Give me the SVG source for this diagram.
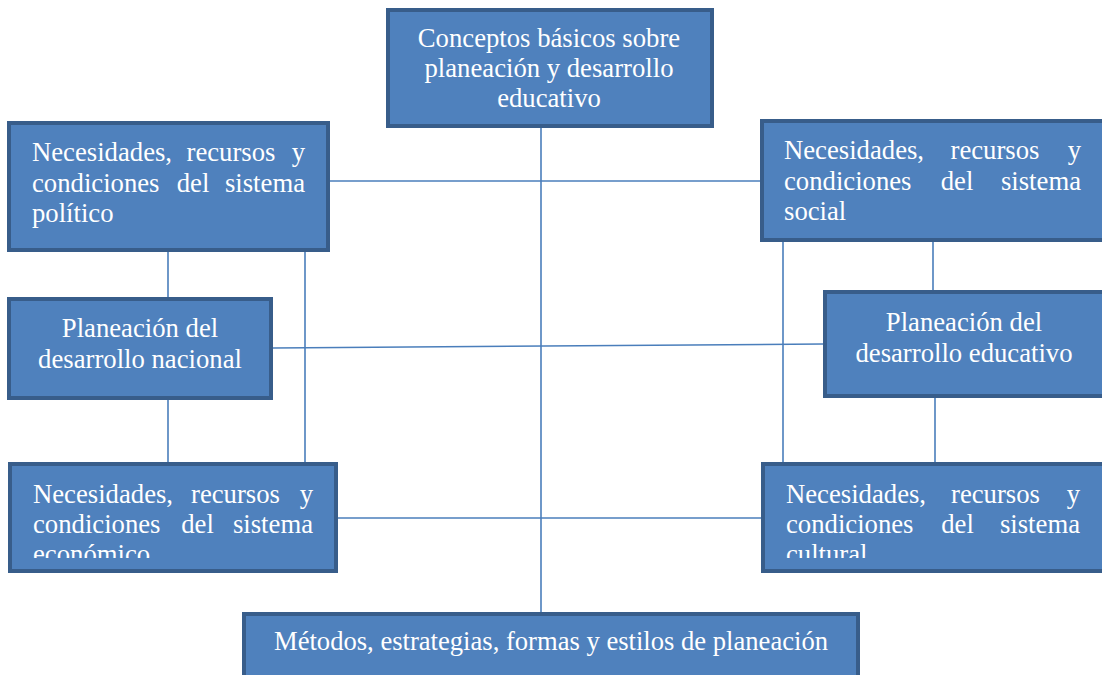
<svg xmlns="http://www.w3.org/2000/svg" width="1102" height="675" viewBox="0 0 1102 675">
<defs>
<style>
.box{fill:#4F81BD;stroke:#385D8A;stroke-width:4}
.t{font-family:"Liberation Serif","Times New Roman",serif;font-size:26.7px;fill:#FFFFFF}
.c{text-anchor:middle}
.e{text-anchor:end}
.ln{stroke:#4A7EBB;stroke-width:1.6;fill:none}
</style>
<clipPath id="clipL"><rect x="0" y="460" width="350" height="98"/></clipPath>
<clipPath id="clipR"><rect x="750" y="460" width="352" height="98"/></clipPath>
</defs>
<rect width="1102" height="675" fill="#FFFFFF"/>
<g id="connectors">
<line class="ln" x1="541" y1="127" x2="541" y2="612"/>
<line class="ln" x1="330" y1="181" x2="760" y2="181"/>
<line class="ln" x1="273" y1="348" x2="823" y2="344"/>
<line class="ln" x1="338" y1="518" x2="761" y2="518"/>
<line class="ln" x1="168" y1="252" x2="168" y2="297"/>
<line class="ln" x1="168" y1="400" x2="168" y2="462"/>
<line class="ln" x1="305" y1="252" x2="305" y2="462"/>
<line class="ln" x1="783" y1="242" x2="783" y2="462"/>
<line class="ln" x1="933" y1="242" x2="933" y2="290"/>
<line class="ln" x1="935" y1="398" x2="935" y2="462"/>
</g>
<g id="n-conceptos">
<rect class="box" x="388" y="10" width="324" height="116"/>
<text class="t c" x="549" y="47">Conceptos básicos sobre</text>
<text class="t c" x="549" y="77">planeación y desarrollo</text>
<text class="t c" x="549" y="107">educativo</text>
</g>
<g id="n-politico">
<rect class="box" x="9" y="123" width="319" height="127"/>
<text class="t" x="32" y="161">Necesidades,</text>
<text class="t c" x="231" y="161">recursos</text>
<text class="t e" x="305" y="161">y</text>
<text class="t" x="32" y="192">condiciones</text>
<text class="t c" x="193" y="192">del</text>
<text class="t e" x="305" y="192">sistema</text>
<text class="t" x="32" y="222">político</text>
</g>
<g id="n-social">
<rect class="box" x="762" y="121" width="345" height="119"/>
<text class="t" x="784" y="159">Necesidades,</text>
<text class="t c" x="995" y="159">recursos</text>
<text class="t e" x="1081" y="159">y</text>
<text class="t" x="784" y="190">condiciones</text>
<text class="t c" x="957" y="190">del</text>
<text class="t e" x="1081" y="190">sistema</text>
<text class="t" x="784" y="220">social</text>
</g>
<g id="n-nacional">
<rect class="box" x="9" y="299" width="262" height="99"/>
<text class="t c" x="140" y="337">Planeación del</text>
<text class="t c" x="140" y="368">desarrollo nacional</text>
</g>
<g id="n-educativo">
<rect class="box" x="825" y="292" width="282" height="104"/>
<text class="t c" x="964" y="331">Planeación del</text>
<text class="t c" x="964" y="362">desarrollo educativo</text>
</g>
<g id="n-economico">
<rect class="box" x="10" y="464" width="326" height="107"/>
<g clip-path="url(#clipL)">
<text class="t" x="33" y="503">Necesidades,</text>
<text class="t c" x="235.5" y="503">recursos</text>
<text class="t e" x="313" y="503">y</text>
<text class="t" x="33" y="533">condiciones</text>
<text class="t c" x="197.5" y="533">del</text>
<text class="t e" x="313" y="533">sistema</text>
<text class="t" x="33" y="563">económico</text>
</g>
</g>
<g id="n-cultural">
<rect class="box" x="763" y="464" width="344" height="107"/>
<g clip-path="url(#clipR)">
<text class="t" x="786" y="503">Necesidades,</text>
<text class="t c" x="995.5" y="503">recursos</text>
<text class="t e" x="1080" y="503">y</text>
<text class="t" x="786" y="533">condiciones</text>
<text class="t c" x="957.5" y="533">del</text>
<text class="t e" x="1080" y="533">sistema</text>
<text class="t" x="786" y="563">cultural</text>
</g>
</g>
<g id="n-metodos">
<rect class="box" x="244" y="614" width="614" height="70"/>
<text class="t c" x="551" y="650" textLength="554" lengthAdjust="spacingAndGlyphs">Métodos, estrategias, formas y estilos de planeación</text>
</g>
</svg>
